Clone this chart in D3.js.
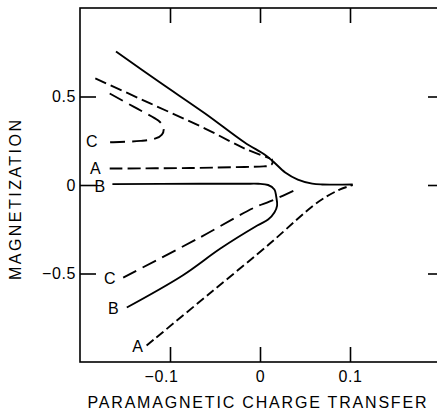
<!DOCTYPE html>
<meta charset="utf-8">

<!-- Load d3.js -->
<script src="https://d3js.org/d3.v7.min.js"></script>

<style>
  body { margin: 0; background: #fff; }
  text { font-family: "Liberation Sans", Arial, sans-serif; fill: #000; }
</style>

<!-- Create a div where the graph will take place -->
<div id="magnetization"></div>

<script>

// tick values
var xTicks = [-0.1, 0, 0.1];
var yTicks = [-0.5, 0, 0.5];

// curves: [charge transfer, magnetization]
// solid upper branch shared by the curves, ends at 0.1
var upperSolid = [[-0.160, 0.754], [-0.111, 0.579], [-0.061, 0.404], [-0.017, 0.240],
  [0.005, 0.172], [0.015, 0.131], [0.028, 0.071], [0.042, 0.031], [0.058, 0.008],
  [0.069, 0.003], [0.103, 0.003]];

// long dashed upper line
var upperDashed = [[-0.183, 0.602], [-0.122, 0.461], [-0.061, 0.319], [-0.017, 0.206], [0.011, 0.150]];

// curve C, upper fold
var curveCUpper = [[-0.167, 0.517], [-0.140, 0.441], [-0.113, 0.364], [-0.109, 0.342],
  [-0.107, 0.314], [-0.109, 0.285], [-0.116, 0.263], [-0.133, 0.249], [-0.156, 0.243], [-0.174, 0.240]];

// curve A, upper branch
var curveAUpper = [[-0.167, 0.093], [-0.078, 0.096], [-0.017, 0.102], [0.004, 0.105],
  [0.011, 0.110], [0.014, 0.124], [0.013, 0.147]];

// curve B, upper branch folding back into the lower one
var curveB = [[-0.164, 0.005], [-0.067, 0.007], [-0.017, 0.007], [-0.002, 0.007],
  [0.009, 0.000], [0.016, -0.025], [0.018, -0.065], [0.019, -0.116], [0.016, -0.155],
  [0.009, -0.195], [-0.003, -0.229], [-0.044, -0.359], [-0.086, -0.511], [-0.148, -0.692]];

// curve C, lower branch
var curveCLower = [[-0.152, -0.523], [-0.067, -0.297], [-0.006, -0.127], [0.011, -0.093], [0.044, -0.017]];

// curve A, lower branch
var curveALower = [[-0.126, -0.907], [-0.056, -0.613], [0.011, -0.331], [0.041, -0.195],
  [0.058, -0.121], [0.072, -0.071], [0.089, -0.025], [0.103, 0.000]];

// curve letters
var curveNames = ["C", "A", "B", "C", "B", "A"];
var nameX = [-0.187, -0.183, -0.178, -0.167, -0.163, -0.136];
var nameY = [0.246, 0.096, -0.008, -0.528, -0.698, -0.912];

// set the dimensions of the graph
var width = 437,
    height = 411;

var svg = d3.select("#magnetization")
  .append("svg")
    .attr("width", width)
    .attr("height", height);

var x = d3.scaleLinear()
  .domain([-0.2, 0.2])
  .range([80, 440]);

var y = d3.scaleLinear()
  .domain([-1, 1])
  .range([362, 8]);

var fmt = function(d) { return d < 0 ? "\u2212" + Math.abs(d) : String(d); };

// frame
svg.append("rect")
  .attr("x", x(-0.2))
  .attr("y", y(1))
  .attr("width", x(0.2) + 3 - x(-0.2))
  .attr("height", y(-1) - y(1))
  .style("fill", "none")
  .style("stroke", "#000")
  .style("stroke-width", 1.6);

// bottom axis
var gx = svg.append("g")
  .attr("transform", "translate(0," + y(-1) + ")")
  .call(d3.axisBottom(x).tickValues(xTicks).tickSize(-15).tickSizeOuter(0).tickPadding(9).tickFormat(fmt));

// top axis, ticks only
var gt = svg.append("g")
  .attr("transform", "translate(0," + y(1) + ")")
  .call(d3.axisTop(x).tickValues(xTicks).tickSize(-15).tickSizeOuter(0).tickFormat(""));

// left axis
var gy = svg.append("g")
  .attr("transform", "translate(" + x(-0.2) + ",0)")
  .call(d3.axisLeft(y).tickValues(yTicks).tickSize(-16).tickSizeOuter(0).tickPadding(4).tickFormat(fmt));

// right axis, ticks only
var gr = svg.append("g")
  .attr("transform", "translate(" + (x(0.2) + 3) + ",0)")
  .call(d3.axisRight(y).tickValues(yTicks).tickSize(-15).tickSizeOuter(0).tickFormat(""));

[gx, gt, gy, gr].forEach(function(g) {
  g.select(".domain").remove();
  g.selectAll("line").style("stroke", "#000").style("stroke-width", 1.6);
  g.selectAll("text")
    .style("font-family", "'Liberation Sans', Arial, sans-serif")
    .style("font-size", "16px")
    .style("letter-spacing", "0.6px")
    .style("fill", "#000");
});

// pull the minus sign out so the digits sit on the tick
gx.selectAll("text").attr("dx", function(d) { return d < 0 ? -9 : 0; });

// lines
var line = d3.line()
  .x(function(d) { return x(d[0]); })
  .y(function(d) { return y(d[1]); })
  .curve(d3.curveCatmullRom.alpha(0.5));

var series = [
  { data: upperSolid, dash: null },
  { data: upperDashed, dash: "12,5" },
  { data: curveCUpper, dash: "15,7" },
  { data: curveAUpper, dash: "13,5" },
  { data: curveB, dash: null },
  { data: curveCLower, dash: "15,7" },
  { data: curveALower, dash: "9,4" }
];

svg.selectAll(".curve")
  .data(series)
  .enter()
  .append("path")
    .attr("class", "curve")
    .attr("d", function(d) { return line(d.data); })
    .style("fill", "none")
    .style("stroke", "#000")
    .style("stroke-width", 1.9)
    .style("stroke-dasharray", function(d) { return d.dash; });

// curve letters
svg.selectAll(".name")
  .data(curveNames)
  .enter()
  .append("text")
    .attr("class", "name")
    .attr("x", function(d, i) { return x(nameX[i]); })
    .attr("y", function(d, i) { return y(nameY[i]); })
    .attr("dy", "0.36em")
    .attr("text-anchor", "middle")
    .style("font-size", "16px")
    .text(function(d) { return d; });

// axis titles
svg.append("text")
  .attr("x", 257)
  .attr("y", 408)
  .attr("text-anchor", "middle")
  .attr("textLength", 339)
  .attr("lengthAdjust", "spacing")
  .style("font-size", "16px")
  .text("PARAMAGNETIC CHARGE TRANSFER");

svg.append("text")
  .attr("transform", "translate(21,200) rotate(-90)")
  .attr("text-anchor", "middle")
  .attr("textLength", 160)
  .attr("lengthAdjust", "spacing")
  .style("font-size", "16px")
  .text("MAGNETIZATION");

</script>
